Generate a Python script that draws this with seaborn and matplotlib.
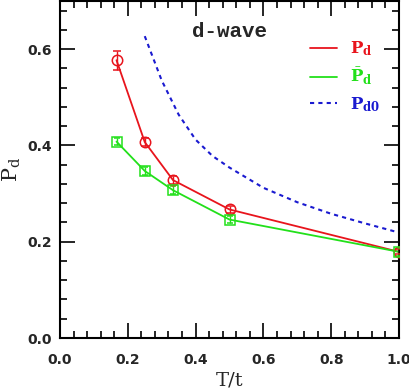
import numpy as np
import pandas as pd
import matplotlib
matplotlib.use("Agg")
import matplotlib.pyplot as plt
from matplotlib.ticker import MultipleLocator, FormatStrFormatter
import seaborn as sns

# data
T = [1/6, 0.25, 1/3, 0.5, 1.0]
pd_vals = [0.577, 0.407, 0.328, 0.267, 0.179]
pd_err = [0.02, 0.008, 0.008, 0.008, 0.005]
pdbar_vals = [0.408, 0.347, 0.307, 0.246, 0.179]
pdbar_err = [0.008, 0.008, 0.008, 0.008, 0.008]

T0 = [0.25, 0.3, 0.35, 0.4, 0.45, 0.5, 0.6, 0.7, 0.8, 0.9, 1.0]
pd0_vals = [0.627, 0.535, 0.464, 0.412, 0.378, 0.354, 0.312, 0.282, 0.258, 0.238, 0.219]

sns.set_style("ticks")
plt.rcParams['font.family'] = ['DejaVu Sans']
plt.rcParams['mathtext.fontset'] = 'dejavuserif'

fig = plt.figure(figsize=(4.09, 3.92), dpi=100)
ax = fig.add_axes([60/409, 54/392, 339/409, 337/392])

red = "#e8141c"
green = "#22e01a"
blue = "#1a1ad0"

d1 = pd.DataFrame({"T": T, "P": pd_vals})
d2 = pd.DataFrame({"T": T, "P": pdbar_vals})
d0 = pd.DataFrame({"T": T0, "P": pd0_vals})

sns.lineplot(data=d1, x="T", y="P", ax=ax, color=red, lw=1.3, label=r"$\mathbf{P}_\mathbf{d}$")
sns.lineplot(data=d2, x="T", y="P", ax=ax, color=green, lw=1.3, label=r"$\bar{\mathbf{P}}_\mathbf{d}$")
sns.lineplot(data=d0, x="T", y="P", ax=ax, color=blue, lw=1.5, ls=(0, (2, 2)), label=r"$\mathbf{P}_\mathbf{d0}$")

ax.errorbar(T, pd_vals, yerr=pd_err, fmt="o", mfc="none", mec=red, ecolor=red,
            ms=7.5, mew=1.1, capsize=3, elinewidth=1, zorder=5)
ax.errorbar(T, pdbar_vals, yerr=pdbar_err, fmt="s", mfc="none", mec=green, ecolor=green,
            ms=7, mew=1.1, capsize=2.5, elinewidth=1, zorder=5)

ax.set_xlim(0, 1.0)
ax.set_ylim(0, 0.7)
ax.xaxis.set_major_locator(MultipleLocator(0.2))
ax.xaxis.set_minor_locator(MultipleLocator(0.04))
ax.yaxis.set_major_locator(MultipleLocator(0.2))
ax.yaxis.set_minor_locator(MultipleLocator(0.04))
ax.xaxis.set_major_formatter(FormatStrFormatter("%.1f"))
ax.yaxis.set_major_formatter(FormatStrFormatter("%.1f"))
ax.tick_params(which="both", direction="in", top=True, right=True, width=1.2, color="black")
ax.tick_params(which="major", length=11, labelsize=10)
ax.tick_params(axis="x", which="major", pad=11)
ax.tick_params(axis="y", which="major", pad=6)
ax.tick_params(which="minor", length=5)
for lab in ax.get_xticklabels() + ax.get_yticklabels():
    lab.set_fontweight("bold")
for sp in ax.spines.values():
    sp.set_linewidth(1.5)
    sp.set_color("black")

ax.set_xlabel("T/t", family="DejaVu Serif", fontsize=14, labelpad=3)
ax.set_ylabel(r"$\mathrm{P_d}$", fontsize=15, labelpad=3)

ax.text(0.5, 0.91, "d-wave", transform=ax.transAxes, ha="center", va="center",
        family="Liberation Mono", fontsize=15, fontweight="bold")

leg = ax.legend(loc="upper right", bbox_to_anchor=(0.99, 0.93), frameon=False,
                handlelength=1.6, labelspacing=0.45, fontsize=12, labelcolor="linecolor")

fig.savefig("out.png", dpi=100)
